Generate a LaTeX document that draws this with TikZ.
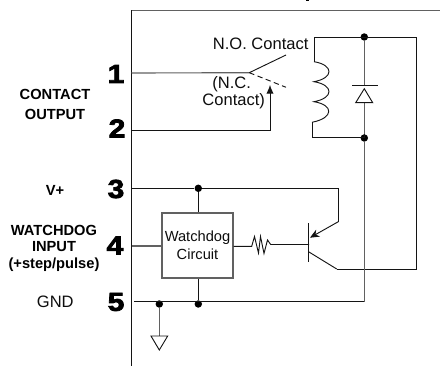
\documentclass[tikz,border=0pt]{standalone}
\usepackage{fontspec}
\setmainfont{Liberation Sans}
\newfontfamily\pinfont[FakeBold=3,FakeStretch=1.15]{Liberation Sans Bold}
\usetikzlibrary{arrows.meta}
\tikzset{
  wire/.style={line width=0.7pt,draw=black!92},
  grey wire/.style={line width=0.85pt,draw=black!62},
  dotm/.style={circle,fill=black,inner sep=0pt,minimum size=5.6pt},
  lbl/.style={font=\fontsize{12.4pt}{14pt}\selectfont,text=black!95,align=center,inner sep=0pt},
  blbl/.style={font=\fontsize{11pt}{13pt}\selectfont\bfseries,align=center,inner sep=0pt},
  pinlbl/.style={font=\pinfont\fontsize{19.5pt}{19.5pt}\selectfont,inner sep=0pt,text=black},
  box/.style={draw=black!62,line width=0.85pt,inner sep=0pt,minimum width=53.25pt,minimum height=48.75pt,align=center,font=\fontsize{11pt}{13.7pt}\selectfont,text=black!95}
}
\begin{document}
\begin{tikzpicture}[x=0.75pt,y=-0.75pt]
\useasboundingbox (0,0) rectangle (440,366);
% frame
\coordinate (ftl) at (131.5,10.5); \coordinate (ftr) at (440,10.5); \coordinate (fb) at (131.5,366);
\draw[wire] (ftl) -- (fb);
\draw[grey wire] (ftl) -- (ftr);
\fill[black] (305.6,0) rectangle (309,1.2);
% pins
\node[pinlbl] (p1) at (116,74) {1};
\node[pinlbl] (p2) at (117,128.5) {2};
\node[pinlbl] (p3) at (116,189) {3};
\node[pinlbl] (p4) at (115,245.5) {4};
\node[pinlbl] (p5) at (116,302) {5};
\node[blbl] (lc1) at (55,94) {CONTACT};
\node[blbl] (lc2) at (55,114.7) {OUTPUT};
\node[blbl] (lv) at (55,190) {V+};
\node[blbl] (lw1) at (54,230) {WATCHDOG};
\node[blbl] (lw2) at (54,247) {INPUT};
\node[blbl] (lw3) at (54,265) {(+step/pulse)};
\node[lbl] (lg) at (55.3,302) {GND};
% contact
\coordinate (c1) at (131.5,73); \coordinate (piv) at (249.3,72.7);
\coordinate (no) at (286,55); \coordinate (nc) at (286,87.3);
\coordinate (c2) at (131.5,130.3); \coordinate (c2b) at (270,130.3); \coordinate (c2t) at (270,85);
\draw[grey wire] (c1) -- (piv);
\draw[wire] (piv) -- (no);
\draw[wire,dash pattern=on 4pt off 2.6pt] (piv) -- (nc);
\draw[wire,-{Latex[length=6.5pt,width=5.5pt]}] (c2) -- (c2b) -- (c2t);
\node[lbl] (tno) at (260.7,44) {N.O. Contact};
\node[lbl] (tnc1) at (231.7,84.5) {(N.C.};
\node[lbl] (tnc2) at (233.7,101.7) {Contact)};
% coil
\coordinate (ctop) at (314,37.7); \coordinate (cs) at (314,61.7);
\coordinate (ce) at (312,122.3); \coordinate (cb) at (312,137.7);
\node[dotm] (d1) at (364.3,37) {};
\node[dotm] (d2) at (364.3,138) {};
\coordinate (ctr) at (416.7,37.7); \coordinate (cbr) at (416.7,269);
\coordinate (q1) at (336.7,269);
\draw[wire] (cs) -- (ctop) -- (ctr) -- (cbr) -- (q1);
\draw[wire] (ce) -- (cb) -- (cb -| d2) -- (d2);
\draw[wire] (cs) .. controls (334,65) and (334,78) .. (314,81.7)
  .. controls (334,85) and (334,98) .. (314,101.7)
  .. controls (334,105) and (334,118) .. (ce);
% diode + rail
\coordinate (dcat) at (364.3,85.7); \coordinate (dan) at (364.3,102.7); \coordinate (rb) at (364.3,301.7);
\draw[grey wire] (d1) -- (dcat);
\draw[grey wire] (dan) -- (d2);
\draw[grey wire] (d2) -- (rb);
\draw[wire] (352,85.7) -- (378.3,85.7);
\draw[wire] (364.3,88.7) -- (372.7,102.7) -- (355.7,102.7) -- cycle;
% watchdog
\node[box] (wd) at (197.5,245.5) {Watchdog\\Circuit};
\node[dotm] (d3) at (198.3,188.3) {};
\node[dotm] (d4) at (198.3,304) {};
\node[dotm] (d5) at (159.3,304) {};
\coordinate (v0) at (131.5,188.3); \coordinate (v1) at (338.3,188.3); \coordinate (v2) at (338.3,221.7);
\coordinate (em) at (310,237.7);
\draw[wire] (v0) -- (d3) -- (v1) -- (v2);
\draw[wire,-{Stealth[length=7pt,width=6pt]}] (v2) -- (em);
\draw[wire] (d3) -- (d3 |- wd.north);
\draw[wire] (d4) -- (d4 |- wd.south);
\draw[grey wire] (131.5,246) -- (wd.west |- 0,246);
% resistor + transistor
\coordinate (rs) at (251.7,246.3); \coordinate (re) at (270.7,244.5); \coordinate (base) at (309,244.5);
\draw[wire] (wd.east |- rs) -- (rs) -- (254.5,236.5) -- (258.5,253) -- (260.5,236.5) -- (264,253.5) -- (267.5,240) -- (re) -- (base);
\draw[wire] (308.5,223.3) -- (308.5,262.3);
\draw[wire] (308.5,251.7) -- (q1);
% ground rail
\draw[wire] (134,301.7) -- (rb);
\coordinate (gt) at (159.3,336);
\draw[grey wire] (d5) -- (gt);
\draw[wire] (151,336) -- (167.7,336) -- (159.3,350) -- cycle;
\end{tikzpicture}
\end{document}
